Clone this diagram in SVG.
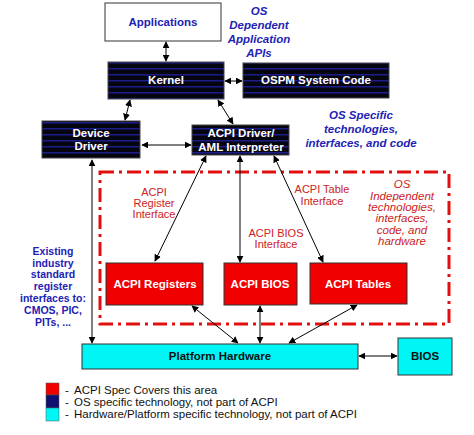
<svg xmlns="http://www.w3.org/2000/svg" width="474" height="435" viewBox="0 0 474 435">
<defs>
<pattern id="stripes" patternUnits="userSpaceOnUse" width="10" height="6">
<rect width="10" height="6" fill="#05050f"/>
<rect y="2" width="10" height="1.5" fill="#1c1c8a"/>
</pattern>
<marker id="ah" viewBox="0 0 10 10" refX="9" refY="5" markerWidth="7" markerHeight="7" orient="auto-start-reverse" markerUnits="userSpaceOnUse">
<path d="M0,0 L10,5 L0,10 z" fill="#000"/>
</marker>
</defs>
<style>
.dark{fill:url(#stripes);stroke:#444;stroke-width:1}
.red{fill:#f00000;stroke:#333;stroke-width:1}
.cyan{fill:#00f5f5;stroke:#333;stroke-width:1}
.wt{font-family:"Liberation Sans",Arial,sans-serif;font-weight:bold;font-size:11.5px;fill:#fff;text-anchor:middle}
.bt{font-family:"Liberation Sans",Arial,sans-serif;font-weight:bold;font-size:11.5px;fill:#111;text-anchor:middle}
.blue{font-family:"Liberation Sans",Arial,sans-serif;font-weight:bold;font-size:11.5px;fill:#2222b4;text-anchor:middle}
.bluei{font-family:"Liberation Sans",Arial,sans-serif;font-weight:bold;font-style:italic;font-size:11.5px;fill:#2222b4;text-anchor:middle}
.redt{font-family:"Liberation Sans",Arial,sans-serif;font-size:11px;fill:#cc2222;text-anchor:middle}
.redi{font-family:"Liberation Sans",Arial,sans-serif;font-style:italic;font-size:11.5px;fill:#cc2222;text-anchor:middle}
.leg{font-family:"Liberation Sans",Arial,sans-serif;font-size:11.5px;fill:#111}
.conn line{stroke:#000;stroke-width:1;marker-start:url(#ah);marker-end:url(#ah)}
</style>
<rect width="474" height="435" fill="#fff"/>

<g id="os-independent-region">
<rect x="100" y="172" width="349" height="152" fill="none" stroke="#e01010" stroke-width="3" stroke-dasharray="14,5,3,5"/>
</g>

<g id="applications">
<rect x="105" y="3" width="116" height="38" fill="#fff" stroke="#333" stroke-width="1"/>
<text class="blue" x="163" y="26">Applications</text>
</g>
<g id="kernel">
<rect class="dark" x="108" y="62" width="116" height="37"/>
<text class="wt" x="166" y="84">Kernel</text>
</g>
<g id="ospm">
<rect class="dark" x="243" y="63" width="146" height="35"/>
<text class="wt" x="316" y="84">OSPM System Code</text>
</g>
<g id="device-driver">
<rect class="dark" x="42" y="121" width="98" height="37"/>
<text class="wt" x="91" y="137">Device</text>
<text class="wt" x="91" y="150">Driver</text>
</g>
<g id="acpi-driver">
<rect class="dark" x="192" y="125" width="97" height="30"/>
<text class="wt" x="241" y="137">ACPI Driver/</text>
<text class="wt" x="241" y="151">AML Interpreter</text>
</g>
<g id="acpi-registers">
<rect class="red" x="106" y="263" width="97" height="42"/>
<text class="wt" x="155" y="288">ACPI Registers</text>
</g>
<g id="acpi-bios">
<rect class="red" x="224" y="263" width="73" height="42"/>
<text class="wt" x="260" y="288">ACPI BIOS</text>
</g>
<g id="acpi-tables">
<rect class="red" x="310" y="263" width="97" height="41"/>
<text class="wt" x="358" y="288">ACPI Tables</text>
</g>
<g id="platform-hardware">
<rect class="cyan" x="82" y="344" width="276" height="25"/>
<text class="bt" x="220" y="360">Platform Hardware</text>
</g>
<g id="bios">
<rect class="cyan" x="398" y="338" width="54" height="37"/>
<text class="bt" x="425" y="360">BIOS</text>
</g>

<g id="connectors" class="conn">
<line x1="166" y1="42" x2="166" y2="61"/>
<line x1="225" y1="81" x2="242" y2="81"/>
<line x1="130" y1="100" x2="125" y2="120"/>
<line x1="218" y1="100" x2="233" y2="124"/>
<line x1="142" y1="145" x2="191" y2="145"/>
<line x1="92" y1="160" x2="92" y2="343"/>
<line x1="206" y1="156" x2="155" y2="261"/>
<line x1="240" y1="156" x2="240" y2="262"/>
<line x1="274" y1="156" x2="323" y2="262"/>
<line x1="192" y1="306" x2="238" y2="343"/>
<line x1="260" y1="306" x2="260" y2="343"/>
<line x1="357" y1="305" x2="289" y2="343"/>
<line x1="359" y1="356" x2="397" y2="356"/>
</g>

<g id="labels">
<text class="bluei" x="259" y="15">OS</text>
<text class="bluei" x="259" y="29">Dependent</text>
<text class="bluei" x="259" y="43">Application</text>
<text class="bluei" x="259" y="57">APIs</text>
<text class="bluei" x="361" y="119">OS Specific</text>
<text class="bluei" x="361" y="133">technologies,</text>
<text class="bluei" x="361" y="147">interfaces, and code</text>
<text class="redt" x="154" y="196">ACPI</text>
<text class="redt" x="154" y="207">Register</text>
<text class="redt" x="154" y="218">Interface</text>
<text class="redt" x="322" y="193">ACPI Table</text>
<text class="redt" x="322" y="205">Interface</text>
<text class="redt" x="276" y="237">ACPI  BIOS</text>
<text class="redt" x="276" y="248">Interface</text>
<text class="redi" x="402" y="188">OS</text>
<text class="redi" x="402" y="200">Independent</text>
<text class="redi" x="402" y="211">technologies,</text>
<text class="redi" x="402" y="222">interfaces,</text>
<text class="redi" x="402" y="234">code, and</text>
<text class="redi" x="402" y="245">hardware</text>
<text class="blue" style="font-size:10.5px" x="53" y="255">Existing</text>
<text class="blue" style="font-size:10.5px" x="53" y="267">industry</text>
<text class="blue" style="font-size:10.5px" x="53" y="278">standard</text>
<text class="blue" style="font-size:10.5px" x="53" y="290">register</text>
<text class="blue" style="font-size:10.5px" x="53" y="302">interfaces to:</text>
<text class="blue" style="font-size:10.5px" x="53" y="314">CMOS, PIC,</text>
<text class="blue" style="font-size:10.5px" x="53" y="326">PITs, ...</text>
</g>

<g id="legend">
<rect x="46" y="383" width="13" height="12" fill="#f00000" stroke="#555" stroke-width="0.5"/>
<rect x="46" y="395" width="13" height="13" fill="#101070" stroke="#555" stroke-width="0.5"/>
<rect x="46" y="408" width="13" height="13" fill="#00f5f5" stroke="#555" stroke-width="0.5"/>
<text class="leg" x="65" y="394">-<tspan x="74">ACPI Spec Covers this area</tspan></text>
<text class="leg" x="65" y="406">-<tspan x="74">OS specific technology, not part of ACPI</tspan></text>
<text class="leg" x="65" y="418">-<tspan x="74">Hardware/Platform specific technology, not part of ACPI</tspan></text>
</g>
</svg>
